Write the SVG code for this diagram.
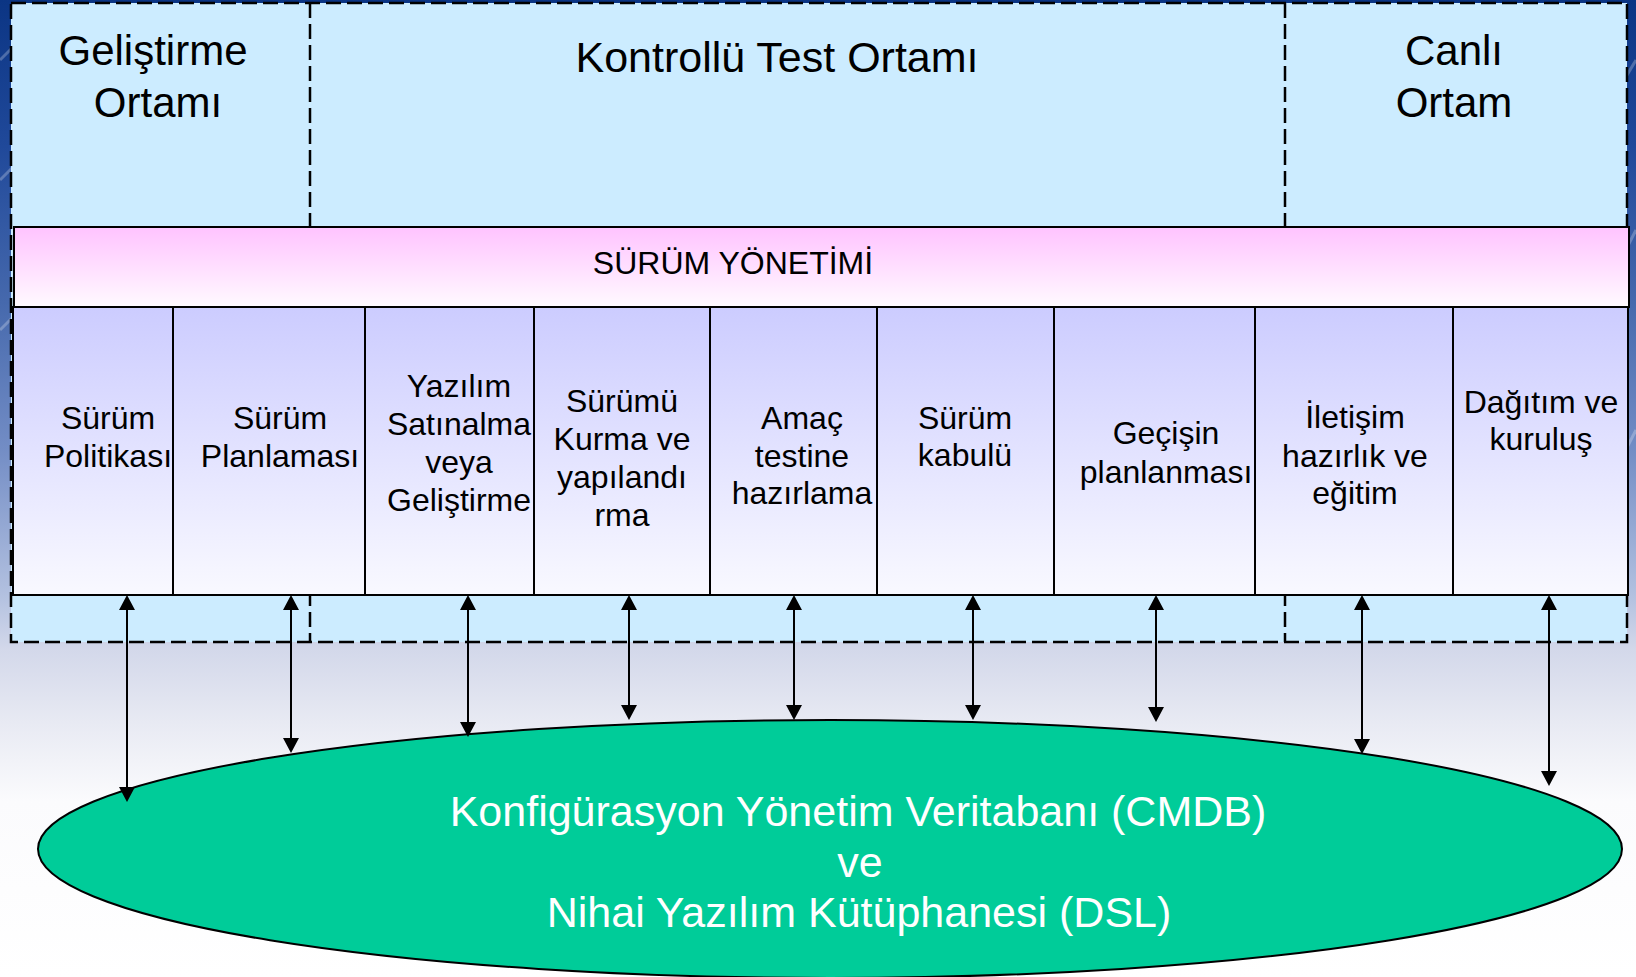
<svg xmlns="http://www.w3.org/2000/svg" width="1636" height="977" viewBox="0 0 1636 977">
  <defs>
    <linearGradient id="bg" gradientUnits="userSpaceOnUse" x1="0" y1="0" x2="0" y2="977">
      <stop offset="0" stop-color="#0b3584"/>
      <stop offset="0.15" stop-color="#20499a"/>
      <stop offset="0.31" stop-color="#4669ad"/>
      <stop offset="0.46" stop-color="#738dc5"/>
      <stop offset="0.61" stop-color="#b3c1e0"/>
      <stop offset="0.665" stop-color="#d3d8ea"/>
      <stop offset="0.74" stop-color="#e8eaf3"/>
      <stop offset="0.82" stop-color="#fbfbfd"/>
      <stop offset="1" stop-color="#ffffff"/>
    </linearGradient>
    <linearGradient id="band" x1="0" y1="0" x2="0" y2="1">
      <stop offset="0" stop-color="#ffc3ff"/>
      <stop offset="1" stop-color="#fffaff"/>
    </linearGradient>
    <linearGradient id="col" x1="0" y1="0" x2="0" y2="1">
      <stop offset="0" stop-color="#ccccff"/>
      <stop offset="1" stop-color="#f9f9ff"/>
    </linearGradient>
    <marker id="head" markerUnits="userSpaceOnUse" viewBox="0 0 15 16" markerWidth="15" markerHeight="16" refX="7" refY="8" orient="auto-start-reverse">
      <path d="M0,0 L15,8 L0,16 z" fill="#000"/>
    </marker>
    <style>
      .env { fill: #ccecff; stroke: none; }
      .dash { fill: none; stroke: #000; stroke-width: 2.5; stroke-dasharray: 15 6; }
      .txt { font-family: "Liberation Sans", Arial, sans-serif; fill: #000; text-anchor: middle; }
      .env-t { font-size: 42px; }
      .env-t.wide { font-size: 43px; }
      .band-t { font-size: 32px; }
      .col-t { font-size: 32px; }
      .db-t { font-family: "Liberation Sans", Arial, sans-serif; font-size: 43px; fill: #fff; text-anchor: middle; }
      .cell { fill: none; stroke: #000; stroke-width: 2; }
      .link { stroke: #000; stroke-width: 2; fill: none; marker-start: url(#head); marker-end: url(#head); }
      .streak { stroke: #ffffff; stroke-opacity: 0.25; stroke-width: 3; }
    </style>
  </defs>

  <!-- slide background -->
  <rect x="0" y="0" width="1636" height="977" fill="url(#bg)"/>
  <g id="streaks">
    <line class="streak" x1="0" y1="60" x2="40" y2="20"/>
    <line class="streak" x1="0" y1="180" x2="60" y2="120"/>
    <line class="streak" x1="0" y1="330" x2="40" y2="290"/>
    <line class="streak" x1="1600" y1="120" x2="1636" y2="60"/>
    <line class="streak" x1="1600" y1="300" x2="1636" y2="230"/>
    <line class="streak" x1="1600" y1="500" x2="1636" y2="430"/>
  </g>

  <!-- environments -->
  <g id="env-dev">
    <rect class="env" x="11" y="3" width="299" height="639"/>
    <text class="txt env-t" x="153" y="65">Geliştirme</text>
    <text class="txt env-t" x="158" y="117">Ortamı</text>
  </g>
  <g id="env-test">
    <rect class="env" x="310" y="3" width="975" height="639"/>
    <text class="txt env-t wide" x="777" y="72">Kontrollü Test Ortamı</text>
  </g>
  <g id="env-live">
    <rect class="env" x="1285" y="3" width="342" height="639"/>
    <text class="txt env-t" x="1454" y="65">Canlı</text>
    <text class="txt env-t" x="1454" y="117">Ortam</text>
  </g>
  <g id="env-borders">
    <rect class="dash" x="11" y="3" width="1616" height="639"/>
    <line class="dash" x1="310" y1="3" x2="310" y2="642"/>
    <line class="dash" x1="1285" y1="3" x2="1285" y2="642"/>
  </g>

  <!-- release management band -->
  <g id="release-management">
    <rect x="14" y="227" width="1615" height="80" fill="url(#band)" stroke="#000" stroke-width="2"/>
    <text class="txt band-t" x="733" y="274">SÜRÜM YÖNETİMİ</text>
  </g>

  <!-- process steps -->
  <rect x="13" y="307" width="1615" height="288" fill="url(#col)"/>
  <g id="step-policy">
    <rect class="cell" x="13" y="307" width="160" height="288"/>
    <text class="txt col-t" x="108" y="429">Sürüm</text>
    <text class="txt col-t" x="108" y="467">Politikası</text>
  </g>
  <g id="step-planning">
    <rect class="cell" x="173" y="307" width="192" height="288"/>
    <text class="txt col-t" x="280" y="429">Sürüm</text>
    <text class="txt col-t" x="280" y="467">Planlaması</text>
  </g>
  <g id="step-acquire">
    <rect class="cell" x="365" y="307" width="169" height="288"/>
    <text class="txt col-t" x="459" y="397">Yazılım</text>
    <text class="txt col-t" x="459" y="435">Satınalma</text>
    <text class="txt col-t" x="459" y="473">veya</text>
    <text class="txt col-t" x="459" y="511">Geliştirme</text>
  </g>
  <g id="step-build">
    <rect class="cell" x="534" y="307" width="176" height="288"/>
    <text class="txt col-t" x="622" y="412">Sürümü</text>
    <text class="txt col-t" x="622" y="450">Kurma ve</text>
    <text class="txt col-t" x="622" y="488">yapılandı</text>
    <text class="txt col-t" x="622" y="526">rma</text>
  </g>
  <g id="step-test-prep">
    <rect class="cell" x="710" y="307" width="167" height="288"/>
    <text class="txt col-t" x="802" y="429">Amaç</text>
    <text class="txt col-t" x="802" y="467">testine</text>
    <text class="txt col-t" x="802" y="504">hazırlama</text>
  </g>
  <g id="step-acceptance">
    <rect class="cell" x="877" y="307" width="177" height="288"/>
    <text class="txt col-t" x="965" y="429">Sürüm</text>
    <text class="txt col-t" x="965" y="466">kabulü</text>
  </g>
  <g id="step-rollout-plan">
    <rect class="cell" x="1054" y="307" width="201" height="288"/>
    <text class="txt col-t" x="1166" y="444">Geçişin</text>
    <text class="txt col-t" x="1166" y="483">planlanması</text>
  </g>
  <g id="step-communication">
    <rect class="cell" x="1255" y="307" width="198" height="288"/>
    <text class="txt col-t" x="1355" y="428">İletişim</text>
    <text class="txt col-t" x="1355" y="467">hazırlık ve</text>
    <text class="txt col-t" x="1355" y="504">eğitim</text>
  </g>
  <g id="step-deploy">
    <rect class="cell" x="1453" y="307" width="175" height="288"/>
    <text class="txt col-t" x="1541" y="413">Dağıtım ve</text>
    <text class="txt col-t" x="1541" y="450">kuruluş</text>
  </g>

  <!-- CMDB / DSL -->
  <g id="cmdb-dsl">
    <ellipse cx="830" cy="849" rx="792" ry="129" fill="#00cc99" stroke="#000" stroke-width="2"/>
    <text class="db-t" x="858" y="826">Konfigürasyon Yönetim Veritabanı (CMDB)</text>
    <text class="db-t" x="860" y="877">ve</text>
    <text class="db-t" x="859" y="927">Nihai Yazılım Kütüphanesi (DSL)</text>
  </g>

  <!-- two-way links between steps and the CMDB -->
  <g id="connectors">
    <line class="link" x1="127" y1="603" x2="127" y2="794"/>
    <line class="link" x1="291" y1="603" x2="291" y2="745"/>
    <line class="link" x1="468" y1="603" x2="468" y2="729"/>
    <line class="link" x1="629" y1="603" x2="629" y2="712"/>
    <line class="link" x1="794" y1="603" x2="794" y2="712"/>
    <line class="link" x1="973" y1="603" x2="973" y2="712"/>
    <line class="link" x1="1156" y1="603" x2="1156" y2="714"/>
    <line class="link" x1="1362" y1="603" x2="1362" y2="746"/>
    <line class="link" x1="1549" y1="603" x2="1549" y2="778"/>
  </g>
</svg>
